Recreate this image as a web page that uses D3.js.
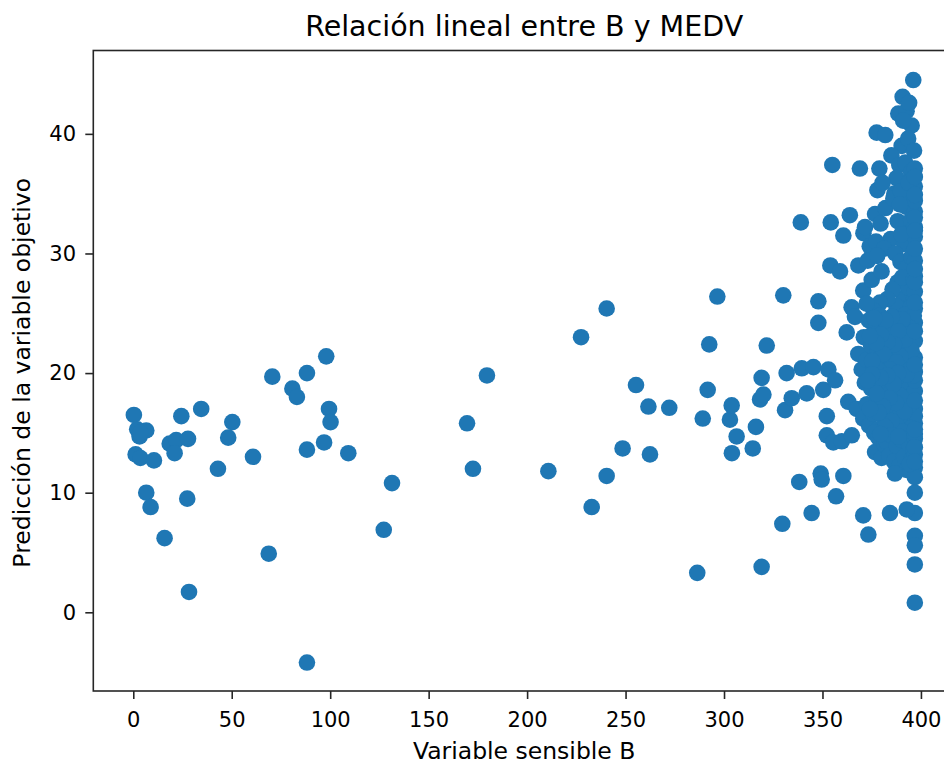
<!DOCTYPE html>
<html lang="es">
    <head>
        <meta charset="utf-8">
        <title>Relación lineal entre B y MEDV</title>
        <script src="https://d3js.org/d3.v7.min.js"></script>
        <style>
            body { margin: 0; background: #fff; }
            text { font-family: "DejaVu Sans", sans-serif; fill: #000; }
        </style>
    </head>

    <body>
        <div id="vis"></div>

        <script>

            // valores de B (eje x), por zonas
            const bBajos = [0.3, 2.0, 3.2, 6.6, 3.5, 1.2, 3.6, 10.5, 6.6, 8.8, 15.9, 18.5, 21.8, 21.0, 24.4, 27.8, 27.4, 28.3, 34.5, 43.0,
                48.2, 50.3, 60.8, 68.8, 70.6, 80.8, 83.1, 88.2, 88.2, 88.2, 96.9, 98.0, 99.4, 100.2, 109.2, 127.2, 131.4];
            const bMedios = [169.5, 172.5, 179.6, 210.8, 227.4, 232.8, 240.4, 240.4, 248.5, 255.3, 261.6, 262.4, 272.2, 286.4, 289.2, 291.7,
                292.5, 296.6, 303.0, 303.9, 304.0, 306.4, 314.6, 316.2, 318.3, 319.1, 320.0, 319.1, 321.7, 329.6, 330.1, 331.0, 331.8, 334.4,
                338.2, 339.0, 339.5];
            const bAltos = [342.0, 344.5, 345.4, 347.9, 347.9, 349.1, 349.6, 350.4, 352.2, 352.2, 353.0, 354.0, 354.2, 355.0, 355.5, 356.4,
                356.9, 358.9, 359.8, 360.6, 360.6, 362.3, 363.1, 363.9, 364.9, 364.8, 366.5, 368.2, 368.2, 369.0, 369.9, 370.7, 370.7, 370.8,
                371.6, 373.3, 376.7];
            const bNube = [
                // y > 35
                396.1, 390.7, 388.5, 392.7, 395.3, 391.0, 377.5, 381.9, 390.2, 385.0, 394.0, 393.5, 396.5, 389.0, 378.9, 377.9, 387.6, 392.0,
                395.0, 396.9, 386.5, 380.5,
                // 30 - 35
                376.7, 379.5, 382.0, 384.6, 386.0, 388.2, 389.8, 391.5, 392.6, 394.2, 395.6, 396.9, 396.9, 396.9, 396.4, 393.8, 374.0, 377.2,
                381.3, 387.0, 390.0, 395.0, 396.9, 396.9, 389.3,
                // 25 - 30
                375.0, 380.0, 373.0, 377.8, 388.2, 389.6, 391.2, 392.8, 393.9, 395.1, 396.0, 396.9, 396.9, 396.9, 396.9, 387.5, 385.6, 383.0,
                379.2, 376.0, 372.4, 390.5, 394.8, 396.3,
                // 20 - 25
                371.0, 372.5, 373.6, 374.7, 375.9, 376.8, 378.0, 379.1, 380.3, 381.4, 382.5, 383.6, 384.7, 385.8, 386.9, 388.0, 389.1, 390.2,
                391.3, 392.4, 393.5, 394.6, 395.7, 396.9, 396.9, 396.9, 396.9, 396.4, 395.2, 394.1, 392.9, 391.8, 390.7, 389.6, 388.5, 387.4,
                386.3, 385.2, 384.1, 383.0, 381.9, 380.8, 379.7, 378.6, 377.4, 376.3, 375.2, 374.1,
                // 15 - 20
                367.4, 370.7, 371.5, 372.6, 373.7, 374.8, 375.9, 377.0, 378.1, 379.2, 380.3, 381.4, 382.5, 383.6, 384.7, 385.8, 386.9, 388.0,
                389.1, 390.2, 391.3, 392.4, 393.5, 394.6, 395.7, 396.9, 396.9, 396.9, 396.9, 396.9, 396.2, 395.0, 393.9, 392.8, 391.7, 390.6,
                389.5, 388.4, 387.3, 386.2, 385.1, 384.0, 382.9, 381.8, 380.7, 379.6, 378.5, 377.4, 376.3, 375.2, 374.1, 372.9,
                // 10 - 15
                378.4, 380.0, 381.6, 382.5, 383.9, 385.1, 386.3, 387.8, 389.0, 390.3, 391.5, 392.7, 393.9, 395.0, 396.2, 396.9, 396.9, 396.9,
                396.9, 396.9, 386.8, 379.5, 394.4, 388.6,
                // columna B = 396.9 y abajo
                396.9, 396.9, 396.9, 396.9, 396.9, 396.9, 384.3, 392.8, 396.9, 396.9, 396.9, 396.9, 396.9, 396.9, 396.9, 396.9, 396.9, 396.9,
                396.9, 396.9, 396.9, 396.9
            ];

            // prediccion de MEDV (eje y), mismo orden
            const predBajos = [16.5, 15.3, 14.7, 15.2, 15.0, 13.2, 12.9, 12.7, 10.0, 8.8, 6.2, 14.1, 14.4, 13.3, 16.4, 14.5, 9.5, 1.7, 17.0, 12.0,
                14.6, 15.9, 13.0, 4.9, 19.7, 18.7, 18.0, 20.0, 13.6, -4.2, 14.2, 21.4, 17.0, 15.9, 13.3, 6.9, 10.8];
            const predMedios = [15.8, 12.0, 19.8, 11.8, 23.0, 8.8, 25.4, 11.4, 13.7, 19.0, 17.2, 13.2, 17.1, 3.3, 16.2, 18.6,
                22.4, 26.4, 16.1, 17.3, 13.3, 14.7, 13.7, 15.5, 17.8, 19.6, 18.2, 3.8, 22.3, 7.4, 26.5, 16.9, 20.0, 17.9,
                10.9, 32.6, 20.4];
            const predAltos = [18.3, 8.3, 20.5, 26.0, 24.2, 11.6, 11.1, 18.6, 16.4, 14.8, 20.3, 29.0, 32.6, 37.4, 14.2, 19.4,
                9.7, 28.5, 14.3, 11.4, 31.5, 23.4, 17.6, 33.2, 14.8, 25.5, 24.7, 29.0, 21.6, 37.1, 20.3, 26.9, 8.1, 31.7,
                32.2, 6.5, 13.4];
            const predNube = [
                44.5, 43.1, 41.7, 41.9, 40.7, 41.1, 40.1, 39.9, 39.0, 38.2, 42.6, 39.6, 38.6, 37.4, 37.1, 35.3, 36.3, 37.6,
                36.8, 37.1, 35.0, 35.9,
                33.3, 32.5, 33.8, 31.2, 34.6, 32.7, 35.2, 30.8, 33.9, 31.9, 34.3, 35.6, 33.5, 31.4, 30.2, 35.9, 30.6, 31.0,
                30.4, 30.0, 31.6, 32.8, 34.4, 32.2, 34.1,
                27.8, 28.5, 29.4, 29.8, 27.6, 29.3, 26.3, 28.8, 27.1, 29.7, 26.0, 28.1, 29.4, 26.8, 25.4, 25.6, 27.0, 26.2,
                25.9, 25.2, 25.8, 28.0, 25.5, 27.8,
                23.0, 21.1, 24.4, 22.3, 20.4, 23.7, 21.8, 24.8, 20.9, 22.9, 24.1, 21.4, 23.3, 20.6, 24.6, 22.2, 20.2, 23.9,
                21.7, 24.9, 22.6, 20.8, 23.4, 21.3, 22.7, 24.2, 20.1, 24.8, 21.9, 23.8, 20.5, 22.8, 24.5, 21.4, 23.5, 20.9,
                22.4, 24.7, 20.3, 22.6, 24.4, 21.6, 23.2, 20.2, 22.5, 24.6, 21.0, 23.1,
                17.0, 16.2, 19.2, 17.4, 15.6, 18.7, 16.6, 19.5, 15.3, 17.8, 19.0, 16.1, 18.4, 15.7, 19.3, 17.1, 15.2, 18.9,
                16.4, 19.7, 15.9, 17.6, 19.1, 16.3, 18.2, 15.8, 17.0, 18.5, 19.4, 16.4, 19.8, 15.4, 17.3, 19.9, 16.8, 15.1,
                18.1, 20.0, 17.5, 19.1, 16.0, 17.9, 19.8, 15.5, 17.2, 19.6, 16.7, 18.3, 15.0, 19.9, 17.0, 19.4,
                14.6, 12.9, 14.0, 14.3, 13.1, 14.8, 12.6, 13.9, 12.2, 14.4, 13.0, 11.9, 14.1, 12.7, 13.6, 14.5, 13.2, 12.1,
                11.3, 14.9, 11.6, 14.9, 12.4, 14.7,
                10.0, 8.3, 6.4, 5.6, 4.0, 0.8, 8.3, 8.6, 30.4, 36.4, 23.5, 27.6, 25.9, 33.0, 20.7, 17.7, 15.3, 13.8,
                12.6, 34.9, 31.9, 28.7
            ];

            const xTicks = [0, 50, 100, 150, 200, 250, 300, 350, 400];
            const yTicks = [0, 10, 20, 30, 40];

            const titulo = "Relación lineal entre B y MEDV";
            const xEtiqueta = "Variable sensible B";
            const yEtiqueta = "Predicción de la variable objetivo";

            const varB = bBajos.concat(bMedios, bAltos, bNube);
            const prediccion = predBajos.concat(predMedios, predAltos, predNube);
            const puntos = varB.map((b, i) => ({ b: b, p: prediccion[i] }));

            const width = 944;
            const height = 765;
            const mLeft = 93.3, mRight = 955, mTop = 50.5, mBottom = 691;
            const color = '#1f77b4';
            const ink = '#262626';

            const svg = d3.select("#vis")
                    .append("svg")
                    .attr('width', width)
                    .attr('height', height)
                    .style('background', '#fff');

            const xScale = d3.scaleLinear()
                            .domain([-20.3, 417.3])
                            .range([mLeft, mRight]);

            const yScale = d3.scaleLinear()
                            .domain([-6.58, 46.97])
                            .range([mBottom, mTop]);

            // puntos
            svg.append('g')
                .selectAll('circle')
                .data(puntos)
                .enter()
                .append('circle')
                    .attr('cx', d => xScale(d.b))
                    .attr('cy', d => yScale(d.p))
                    .attr('r', 8.3)
                    .attr('fill', color);

            // ejes
            const xAxis = svg.append('g')
                .attr('transform', `translate(0, ${mBottom})`)
                .call(d3.axisBottom(xScale).tickValues(xTicks).tickSize(8).tickPadding(13).tickSizeOuter(0));

            const yAxis = svg.append('g')
                .attr('transform', `translate(${mLeft}, 0)`)
                .call(d3.axisLeft(yScale).tickValues(yTicks).tickSize(8).tickPadding(9.3).tickSizeOuter(0));

            [xAxis, yAxis].forEach(ax => {
                ax.select('.domain').remove();
                ax.selectAll('line').attr('stroke', ink).attr('stroke-width', 1.6);
                ax.selectAll('text')
                    .attr('fill', ink)
                    .style('font-family', '"DejaVu Sans", sans-serif')
                    .style('font-size', '21px');
            });

            // marco
            svg.append('rect')
                .attr('x', mLeft)
                .attr('y', mTop)
                .attr('width', mRight - mLeft)
                .attr('height', mBottom - mTop)
                .attr('fill', 'none')
                .attr('stroke', ink)
                .attr('stroke-width', 1.6);

            // textos
            svg.append('text')
                .attr('x', (mLeft + mRight) / 2)
                .attr('y', 36)
                .attr('text-anchor', 'middle')
                .style('font-size', '28.5px')
                .attr('fill', ink)
                .text(titulo);

            svg.append('text')
                .attr('x', (mLeft + mRight) / 2)
                .attr('y', 759)
                .attr('text-anchor', 'middle')
                .style('font-size', '23.5px')
                .attr('fill', ink)
                .text(xEtiqueta);

            svg.append('text')
                .attr('transform', `translate(30, ${(mTop + mBottom) / 2 + 2}) rotate(-90)`)
                .attr('text-anchor', 'middle')
                .style('font-size', '23.5px')
                .attr('fill', ink)
                .text(yEtiqueta);
        </script>
    </body>
</html>
